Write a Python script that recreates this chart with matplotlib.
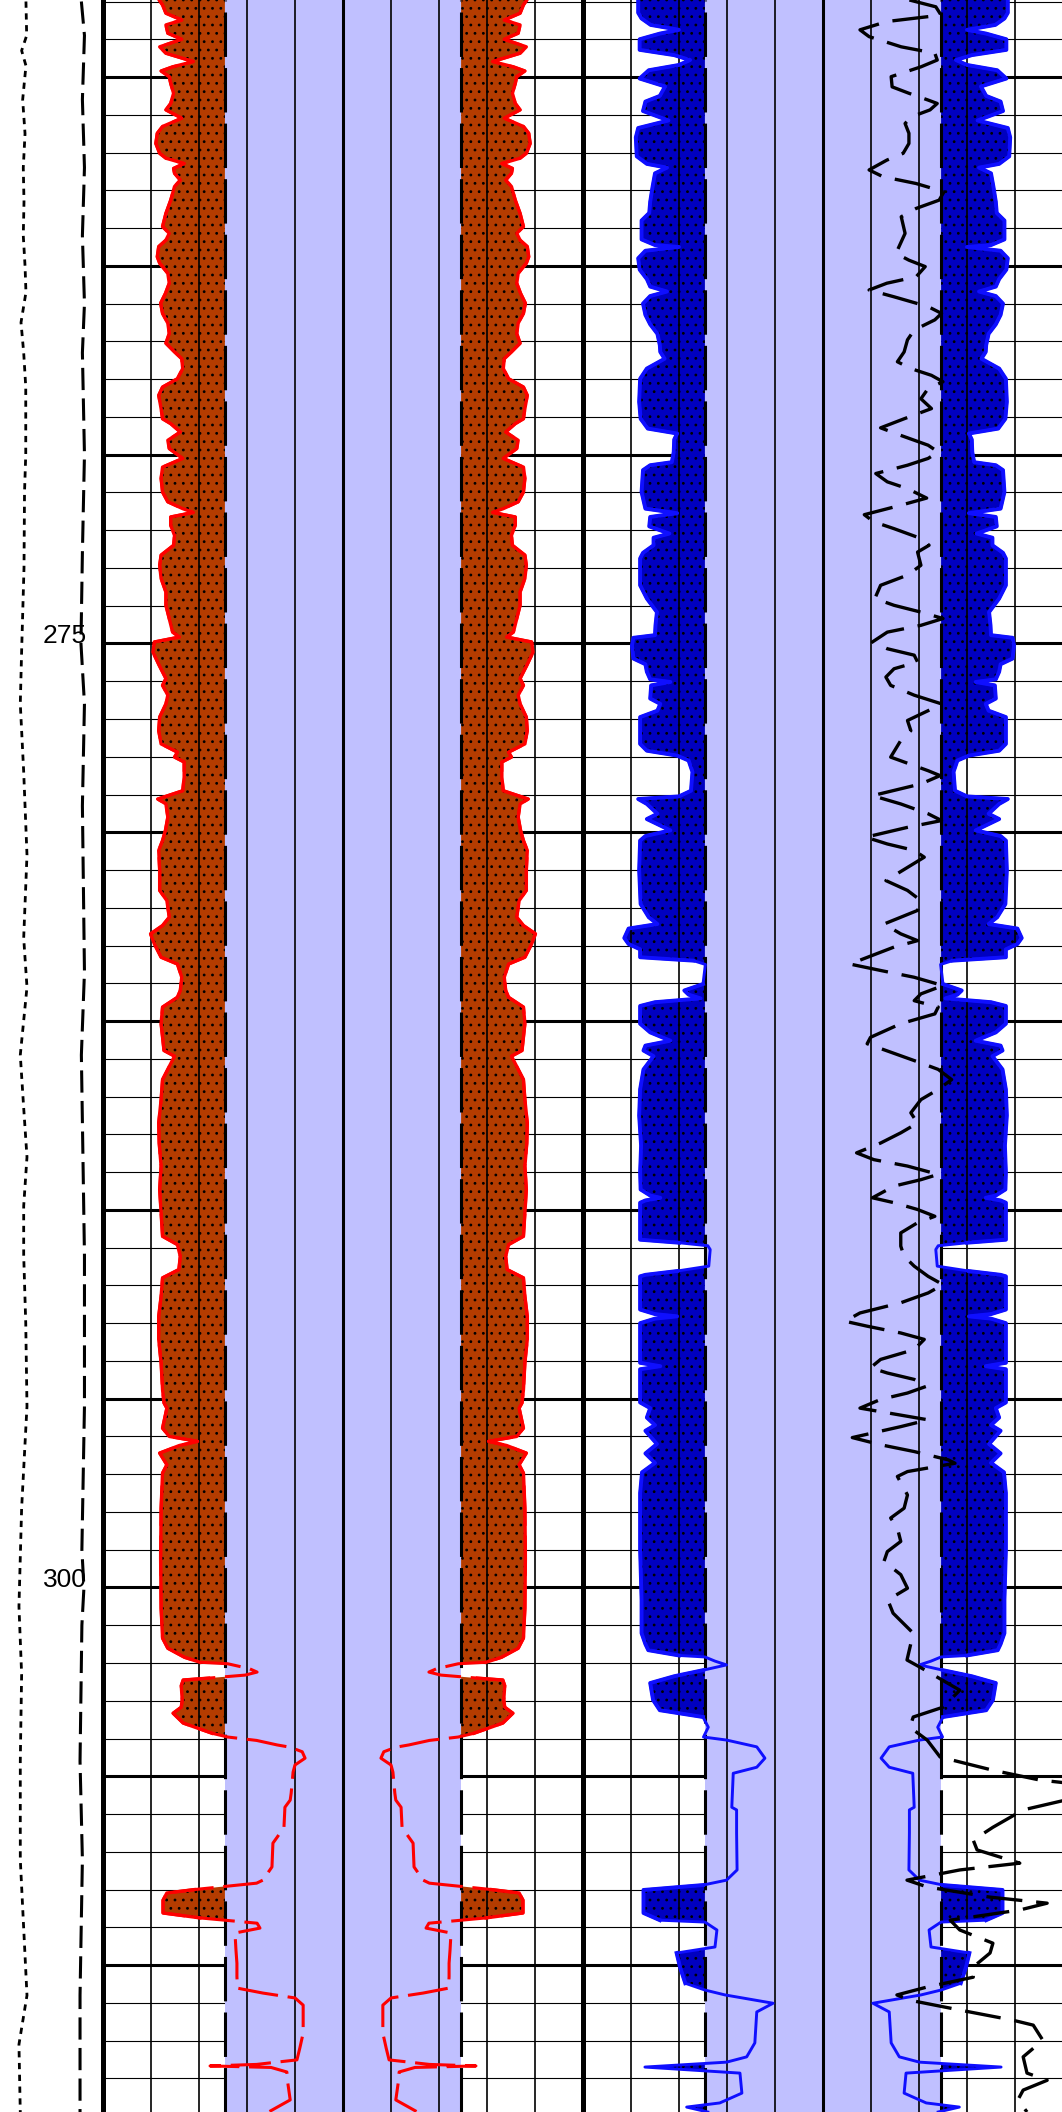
import numpy as np
import matplotlib

matplotlib.use("Agg")
import matplotlib.pyplot as plt

plt.rcParams["font.family"] = ["Liberation Sans", "DejaVu Sans"]
plt.rcParams["lines.scale_dashes"] = False
plt.rcParams["hatch.color"] = "black"
plt.rcParams["hatch.linewidth"] = 0.8

TOP, BASE = 257.96, 313.89
DEPTH_LABELS = [275, 300]

# depth track: two reference curves (track units 0-10)
dot_depth = [258.0, 258.9, 259.3, 259.7, 260.6, 261.5, 262.4, 263.3, 264.2, 265.0,
             265.7, 266.5, 267.3, 268.2, 270.0, 271.0, 273.0, 275.2, 276.6, 278.4,
             280.6, 282.8, 284.1, 285.9, 287.3, 288.6, 289.9, 291.2, 293.0, 295.2,
             297.9, 300.5, 302.3, 304.6, 307.2, 310.8, 312.1, 313.9]
dot_val = [2.52, 2.59, 2.10, 2.52, 2.20, 2.43, 2.26, 2.33, 2.26, 2.43,
           2.52, 2.04, 2.30, 2.50, 2.50, 2.38, 2.33, 2.10, 1.97, 2.30,
           2.62, 2.30, 2.62, 1.97, 2.30, 2.62, 2.30, 2.30, 2.50, 2.62,
           2.10, 1.84, 2.10, 1.97, 1.97, 2.62, 1.84, 1.97]
dash_depth = [258.0, 258.9, 260.6, 262.4, 264.2, 266.0, 267.3, 270.0, 272.6, 275.0,
              276.6, 279.3, 283.7, 285.9, 291.2, 295.2, 299.0, 300.0, 301.0, 304.6,
              307.2, 310.8, 313.9]
dash_val = [7.90, 8.20, 8.00, 8.20, 8.00, 8.20, 8.00, 8.20, 8.00, 7.86,
            8.20, 8.00, 8.20, 7.90, 8.20, 8.20, 7.95, 8.15, 7.95, 7.77,
            8.00, 7.77, 7.77]

# track 1: red curve, left trace position (right trace mirrored about 5)
red_depth = [
    257.96, 258.09, 258.31, 258.49, 258.62, 258.84, 259.00, 259.20, 259.37, 259.59,
    259.73, 259.84, 259.99, 260.17, 260.43, 260.70, 260.87, 261.09, 261.31, 261.49,
    261.76, 262.02, 262.15, 262.29, 262.42, 262.55, 262.73, 262.90, 263.26, 263.61,
    263.96, 264.14, 264.32, 264.49, 264.76, 264.93, 265.20, 265.46, 265.73, 265.99,
    266.26, 266.52, 266.79, 267.05,
    267.28, 267.46, 267.72, 267.99, 268.21, 268.43, 268.78, 269.05, 269.18, 269.40,
    269.62, 269.84, 270.10, 270.33, 270.63, 270.99, 271.25, 271.43, 271.53, 271.65,
    271.87, 272.14, 272.40, 272.66, 272.93, 273.28, 273.64, 273.99, 274.34, 274.70,
    274.83, 274.96, 275.23, 275.58, 275.93, 276.11, 276.37,
    276.60, 276.95, 277.31, 277.66, 277.88, 278.01, 278.14, 278.54, 278.90, 279.12,
    279.25, 279.60, 279.95, 280.22, 280.48, 281.01, 281.54, 281.81, 282.25, 282.47,
    282.69, 282.96, 283.31, 283.49, 283.84, 284.19, 284.37, 284.63, 285.07, 285.43,
    285.78,
    285.93, 286.28, 286.55, 287.08, 287.70, 288.23, 288.84, 289.46, 290.08, 290.70,
    290.92, 291.23, 291.58, 291.80, 292.29, 292.82, 293.43, 294.05, 294.76, 295.11,
    295.25, 295.78, 296.00, 296.13, 296.24, 296.44, 296.75, 296.97, 297.90, 299.22,
    300.55, 301.34, 301.61, 301.85, 301.98, 302.02, 302.15, 302.24, 302.32, 302.40,
    302.45, 302.60, 302.98, 303.17, 303.33, 303.59, 303.86, 303.96, 304.05, 304.17,
    304.23, 304.35, 304.52, 304.70, 304.89, 305.18, 305.45, 305.63, 305.82, 306.10,
    306.35, 306.61, 306.77, 307.10, 307.40, 307.75, 307.83, 307.91, 308.00, 308.09,
    308.28, 308.62, 308.75, 308.81, 308.89, 309.02, 309.15, 309.60, 309.95, 310.30,
    310.61, 310.74, 310.87, 311.06, 311.40, 311.80, 312.20, 312.51, 312.63, 312.67,
    312.71, 312.83, 313.12, 313.57, 313.89]
red_left = [
    1.17, 1.24, 1.31, 1.64, 1.31, 1.35, 1.64, 1.18, 1.31, 1.88,
    1.45, 1.21, 1.38, 1.41, 1.47, 1.41, 1.31, 1.64, 1.24, 1.13,
    1.10, 1.18, 1.31, 1.69, 1.47, 1.49, 1.61, 1.49, 1.41, 1.31,
    1.24, 1.38, 1.31, 1.16, 1.13, 1.18, 1.35, 1.38, 1.30, 1.20,
    1.24, 1.35, 1.38, 1.31,
    1.49, 1.64, 1.66, 1.55, 1.24, 1.16, 1.21, 1.24, 1.41, 1.61,
    1.35, 1.38, 1.66, 1.24, 1.21, 1.24, 1.35, 1.66, 1.88, 1.41,
    1.41, 1.49, 1.47, 1.21, 1.18, 1.21, 1.31, 1.31, 1.38, 1.45,
    1.59, 1.07, 1.04, 1.17, 1.31, 1.24, 1.35,
    1.31, 1.18, 1.16, 1.21, 1.55, 1.49, 1.69, 1.69, 1.66, 1.14,
    1.31, 1.35, 1.30, 1.24, 1.16, 1.18, 1.18, 1.33, 1.38, 1.24,
    0.99, 1.07, 1.21, 1.55, 1.64, 1.61, 1.55, 1.24, 1.21, 1.24,
    1.27,
    1.49, 1.35, 1.24, 1.21, 1.16, 1.17, 1.21, 1.18, 1.21, 1.24,
    1.55, 1.61, 1.58, 1.24, 1.21, 1.16, 1.16, 1.21, 1.24, 1.27,
    1.33, 1.24, 1.38, 1.97, 1.59, 1.18, 1.33, 1.24, 1.21, 1.20,
    1.21, 1.24, 1.35, 1.70, 2.02, 2.60, 3.05, 3.21, 2.96, 2.20,
    1.67, 1.63, 1.65, 1.63, 1.46, 1.67, 2.27, 2.60, 3.20, 3.63,
    3.90, 4.15, 4.21, 4.00, 3.96, 3.94, 3.92, 3.90, 3.79, 3.78,
    3.77, 3.63, 3.54, 3.53, 3.52, 3.33, 3.20, 2.58, 1.90, 1.33,
    1.25, 1.25, 2.02, 2.54, 3.21, 3.27, 2.75, 2.77, 2.79, 2.79,
    2.80, 3.33, 4.00, 4.17, 4.17, 4.17, 4.10, 4.04, 3.20, 2.23,
    3.50, 3.83, 3.85, 3.90, 3.45]

# track 2: blue curve, left trace position (mirrored about 5)
blue_depth = [
    257.96, 258.30, 258.45, 258.62, 258.75, 258.85, 259.00, 259.28, 259.42, 259.55,
    259.68, 259.82, 260.04, 260.25, 260.50, 260.65, 260.90, 261.15, 261.35, 261.60,
    262.10, 262.30, 262.40, 262.55, 262.90, 263.30, 263.60, 263.80, 264.30, 264.45,
    264.50, 264.60, 264.80, 265.10, 265.35, 265.55, 265.68, 265.80, 266.00, 266.30,
    266.55, 266.80, 267.10,
    267.28, 267.46, 267.60, 267.72, 267.99, 268.60, 269.05, 269.31, 269.44, 269.60,
    269.93, 270.20, 270.28, 270.41, 270.99, 271.43, 271.55, 271.65, 271.90, 272.09,
    272.20, 272.40, 272.60, 272.75, 273.46, 273.81, 274.17, 274.52, 274.78, 274.85,
    275.05, 275.40, 275.55, 275.75, 275.95, 276.02, 276.11, 276.46,
    276.60, 276.78, 276.95, 277.66, 277.84, 277.97, 278.10, 278.40, 278.90, 279.05,
    279.12, 279.25, 279.51, 279.65, 279.95, 280.10, 280.22, 281.00, 281.90, 282.25,
    282.43, 282.55, 282.80, 282.96, 283.10, 283.31, 283.40, 283.50, 284.02, 284.19,
    284.30, 284.40, 284.50, 284.60, 285.07, 285.30, 285.52, 285.65, 285.78,
    285.93, 286.28, 286.81, 287.50, 288.30, 289.00, 289.46, 289.62, 289.68, 289.75,
    289.81, 290.79, 290.87, 290.95, 291.05, 291.49, 291.62, 291.72, 291.76, 292.64,
    292.76, 292.82, 292.88, 293.00, 294.05, 294.14, 294.22, 295.10,
    295.25, 295.50, 295.70, 295.85, 296.20, 296.45, 296.70, 296.95, 297.50, 299.00,
    300.33, 301.21, 301.50, 301.66, 301.80, 301.84, 301.95, 302.05, 302.19, 302.35,
    302.53, 302.98, 303.25, 303.43, 303.70, 303.96, 304.04, 304.22, 304.52, 304.76,
    304.92, 305.82, 305.89, 306.50, 307.48, 307.75, 307.88, 308.01, 308.62, 308.81,
    308.86, 309.07, 309.52, 309.68, 310.05, 310.48, 310.66, 310.79, 311.01, 311.24,
    312.06, 312.43, 312.57, 312.70, 312.86, 313.39, 313.65, 313.76, 313.89]
blue_left = [
    1.15, 1.15, 1.22, 1.41, 2.00, 1.60, 1.18, 1.18, 1.90, 2.23,
    2.00, 1.37, 1.18, 1.71, 1.60, 1.30, 1.25, 1.78, 1.15, 1.10,
    1.12, 1.33, 1.75, 1.50, 1.45, 1.40, 1.38, 1.22, 1.22, 1.50,
    2.00, 1.30, 1.15, 1.18, 1.33, 1.40, 1.75, 1.40, 1.25, 1.30,
    1.40, 1.55, 1.60,
    1.61, 1.70, 1.50, 1.33, 1.19, 1.17, 1.20, 1.35, 1.96, 1.90,
    1.89, 1.85, 1.40, 1.25, 1.22, 1.30, 1.96, 1.40, 1.38, 1.80,
    1.47, 1.47, 1.25, 1.19, 1.19, 1.33, 1.54, 1.51, 1.50, 1.05,
    1.02, 1.05, 1.30, 1.33, 1.40, 1.82, 1.42, 1.40,
    1.61, 1.55, 1.19, 1.19, 1.33, 1.96, 2.20, 2.28, 2.25, 2.00,
    1.15, 1.33, 1.55, 1.33, 1.82, 1.30, 1.19, 1.17, 1.20, 1.37,
    1.55, 0.95, 0.86, 0.95, 1.19, 1.19, 2.30, 2.55, 2.50, 2.11,
    2.20, 2.45, 1.50, 1.19, 1.19, 1.40, 1.82, 1.30, 1.26,
    1.47, 1.26, 1.19, 1.17, 1.21, 1.19, 1.20, 1.40, 1.61, 1.30,
    1.19, 1.19, 2.00, 2.60, 2.65, 2.62, 1.96, 1.30, 1.19, 1.19,
    1.50, 1.96, 1.50, 1.19, 1.19, 1.61, 1.19, 1.19,
    1.40, 1.33, 1.50, 1.30, 1.54, 1.30, 1.50, 1.23, 1.19, 1.19,
    1.22, 1.22, 1.30, 1.36, 2.00, 2.54, 2.75, 2.99, 2.50, 1.90,
    1.40, 1.46, 1.60, 2.50, 2.61, 2.51, 2.99, 3.62, 3.79, 3.62,
    3.13, 3.10, 3.20, 3.20, 3.21, 2.99, 2.50, 1.26, 1.26, 1.60,
    2.54, 2.79, 2.75, 1.95, 2.02, 2.13, 2.54, 2.96, 3.96, 3.62,
    3.58, 3.41, 2.99, 1.29, 3.27, 3.31, 2.85, 2.16, 2.60]

# track 2: black dashed curve
blk_depth = [
    257.96, 258.14, 258.36, 258.53, 258.75, 258.93, 259.20, 259.37, 259.55, 259.73,
    259.99, 260.26, 260.43, 260.61, 260.70, 260.87, 261.05, 261.23, 261.49, 261.76,
    262.02, 262.20, 262.46, 262.64, 262.82, 263.04, 263.26, 263.48, 263.70, 264.14,
    264.67, 264.85, 265.02, 265.29, 265.46, 265.64, 265.82, 266.08, 266.26, 266.43,
    266.70, 266.96, 267.28, 267.54, 267.72, 267.90, 268.07, 268.25, 268.52, 268.78,
    269.05, 269.29, 269.49, 269.75, 269.93, 270.10, 270.28, 270.50, 270.72, 270.90,
    271.15, 271.34, 271.59, 271.78, 271.96, 272.22, 272.40, 272.58, 272.93, 273.19,
    273.46, 273.81, 273.99, 274.17, 274.34, 274.52, 274.70, 274.96, 275.14, 275.31,
    275.49, 275.67, 275.89, 276.11, 276.37, 276.60, 276.78, 277.04, 277.31, 277.57,
    278.01, 278.37, 278.50, 278.72, 279.03, 279.25, 279.51, 279.69, 279.87, 280.13,
    280.31, 280.48, 280.66, 280.93, 281.28, 281.54, 281.81, 282.07, 282.43, 282.69,
    282.87, 283.04, 283.49, 283.66, 283.84, 284.06, 284.28, 284.46, 284.63, 284.81,
    285.07, 285.43, 285.60, 285.92, 286.11, 286.28, 286.55, 286.81, 287.08, 287.43,
    287.70, 287.96, 288.23, 288.49, 288.67, 288.84, 289.06, 289.20, 289.37, 289.68,
    289.81, 289.99, 290.17, 290.34, 290.61, 290.96, 291.23, 291.49, 291.76, 291.98,
    292.20, 292.46, 292.73, 292.95, 293.08, 293.26, 293.43, 293.70, 293.96, 294.18,
    294.32, 294.49, 294.67, 294.85, 295.02, 295.25, 295.56, 295.74, 296.03, 296.22,
    296.40, 296.62, 296.71, 296.93, 297.06, 297.55, 297.90, 298.16, 298.43, 298.78,
    299.05, 299.31, 299.66, 300.02, 300.33, 300.68, 301.21, 301.92, 302.11, 302.72,
    303.17, 303.43, 303.70, 304.04, 304.49, 304.84, 305.10, 305.18, 305.63, 305.89,
    306.35, 306.69, 306.95, 307.30, 307.48, 307.75, 307.93, 308.20, 308.36, 308.54,
    308.81, 309.07, 309.42, 309.68, 310.05, 310.32, 310.58, 310.79, 310.93, 311.19,
    311.46, 311.59, 311.99, 312.43, 312.86, 313.05, 313.31, 313.57, 313.89]
blk_val = [
    6.80, 7.35, 7.46, 6.33, 5.77, 5.96, 6.63, 7.33, 7.38, 7.04,
    6.42, 6.44, 6.79, 7.19, 7.38, 7.23, 6.85, 6.71, 6.79, 6.79,
    6.67, 6.33, 5.96, 6.25, 6.94, 7.52, 7.42, 6.94, 6.63, 6.71,
    6.52, 6.79, 7.13, 6.94, 6.33, 5.96, 6.48, 7.19, 7.47, 7.33,
    6.90, 6.76, 6.69, 6.55, 6.83, 7.26, 7.50, 7.19, 7.04, 7.26,
    6.69, 6.20, 6.62, 7.19, 7.40, 7.19, 6.76, 6.10, 6.34, 6.76,
    7.16, 6.62, 5.86, 6.06, 6.48, 7.04, 7.21, 6.97, 7.04, 6.76,
    6.20, 6.08, 6.48, 7.04, 7.50, 7.04, 6.34, 6.03, 6.34, 6.90,
    6.97, 6.48, 6.31, 6.41, 6.90, 7.47, 7.19, 6.76, 6.83, 6.62,
    6.41, 7.19, 7.44, 7.04, 6.03, 6.62, 7.19, 7.47, 6.76, 5.89,
    6.34, 6.90, 7.11, 6.76, 6.31, 6.76, 7.04, 6.97, 6.27, 6.62,
    6.97, 6.48, 5.56, 6.20, 6.90, 7.50, 7.04, 6.90, 7.40, 7.33,
    6.62, 5.99, 5.92, 6.62, 7.04, 7.40, 7.68, 7.40, 7.04, 6.83,
    6.97, 6.62, 6.20, 5.70, 6.06, 6.76, 7.40, 7.04, 6.48, 6.03,
    6.48, 6.97, 7.33, 6.97, 6.62, 6.62, 6.69, 6.90, 7.19, 7.50,
    7.19, 6.62, 5.77, 5.46, 5.92, 6.62, 7.11, 6.90, 6.20, 5.99,
    6.34, 6.90, 7.16, 6.76, 6.20, 5.77, 7.19, 6.62, 5.61, 6.20,
    6.90, 7.61, 7.75, 6.76, 6.55, 6.76, 6.69, 6.41, 6.55, 6.62,
    6.34, 6.27, 6.62, 6.76, 6.35, 6.46, 6.88, 6.75, 7.02, 7.85,
    7.50, 6.88, 6.81, 7.17, 7.44, 8.54, 9.52, 10.10, 10.05, 9.17,
    8.54, 8.13, 8.21, 9.10, 7.85, 6.75, 7.17, 8.48, 9.67, 9.10,
    7.65, 7.85, 8.54, 8.48, 8.13, 8.13, 7.17, 6.54, 6.81, 7.85,
    8.96, 9.38, 9.58, 9.17, 9.25, 9.67, 9.17, 9.06, 9.25]

BASE_L, BASE_R = 2.54, 7.46
LAVENDER = "#C0C0FF"
BROWN = "#B43C00"
DARK_BLUE = "#0000C0"
BLUE_LINE = "#0F0FFF"

W, H = 1062, 2112
fig = plt.figure(figsize=(W / 100, H / 100), dpi=100)
ax0 = fig.add_axes([0, 0, 103 / W, 1])
ax1 = fig.add_axes([103 / W, 0, 480 / W, 1])
ax2 = fig.add_axes([583 / W, 0, 480 / W, 1])
for ax in (ax0, ax1, ax2):
    ax.set_xlim(0, 10)
    ax.set_ylim(BASE, TOP)
    ax.axis("off")


def track_grid(ax):
    for d in range(258, 314):
        ax.axhline(d, color="black", lw=2.2 if d % 5 == 0 else 0.8, zorder=1)
    ax.axvspan(BASE_L, BASE_R, color=LAVENDER, lw=0, zorder=2)
    for k in range(1, 10):
        ax.axvline(k, color="black", lw=2.2 if k == 5 else 1.2, zorder=4)
    for b in (BASE_L, BASE_R):
        ax.axvline(b, color="black", lw=2.2, ls=(0, (32, 8)), zorder=5)
    ax.axvline(0, color="black", lw=3.6, clip_on=False, zorder=9)


track_grid(ax1)
track_grid(ax2)


def mirrored_fill(ax, depth, left, face):
    depth = np.asarray(depth)
    left = np.asarray(left)
    right = 10 - left
    ax.fill_betweenx(depth, left, BASE_L, where=left < BASE_L, interpolate=True,
                     facecolor=face, edgecolor="black", lw=0, hatch="..", zorder=3)
    ax.fill_betweenx(depth, right, BASE_R, where=right > BASE_R, interpolate=True,
                     facecolor=face, edgecolor="black", lw=0, hatch="..", zorder=3)
    return depth, left, right


# track 1: red, dashed inside the lavender band, solid over the fill
rd, rl, rr = mirrored_fill(ax1, red_depth, red_left, BROWN)
for trace, outside in ((rl, rl < BASE_L), (rr, rr > BASE_R)):
    ax1.plot(trace, rd, color="red", lw=2.2, ls=(0, (29, 7)), zorder=6)
    ax1.plot(np.where(outside, trace, np.nan), rd, color="red", lw=2.4, zorder=6)

# track 2: blue, solid
bd, bl, br = mirrored_fill(ax2, blue_depth, blue_left, DARK_BLUE)
for trace, outside in ((bl, bl < BASE_L), (br, br > BASE_R)):
    ax2.plot(trace, bd, color=BLUE_LINE, lw=2.1, zorder=6)
    ax2.plot(np.where(outside, trace, np.nan), bd, color=BLUE_LINE, lw=2.8, zorder=6)

ax2.plot(blk_val, blk_depth, color="black", lw=2.4, ls=(0, (26, 10)), zorder=7)

# depth track
ax0.plot(dot_val, dot_depth, color="black", lw=2.0, ls=(0, (4.5, 4)), zorder=3)
ax0.plot(dash_val, dash_depth, color="black", lw=2.2, ls=(0, (16, 6)), zorder=3)
for d in DEPTH_LABELS:
    ax0.text(8.45, d, str(d), ha="right", va="baseline", fontsize=19, zorder=5)

fig.savefig("out.png", dpi=100, facecolor="white")
